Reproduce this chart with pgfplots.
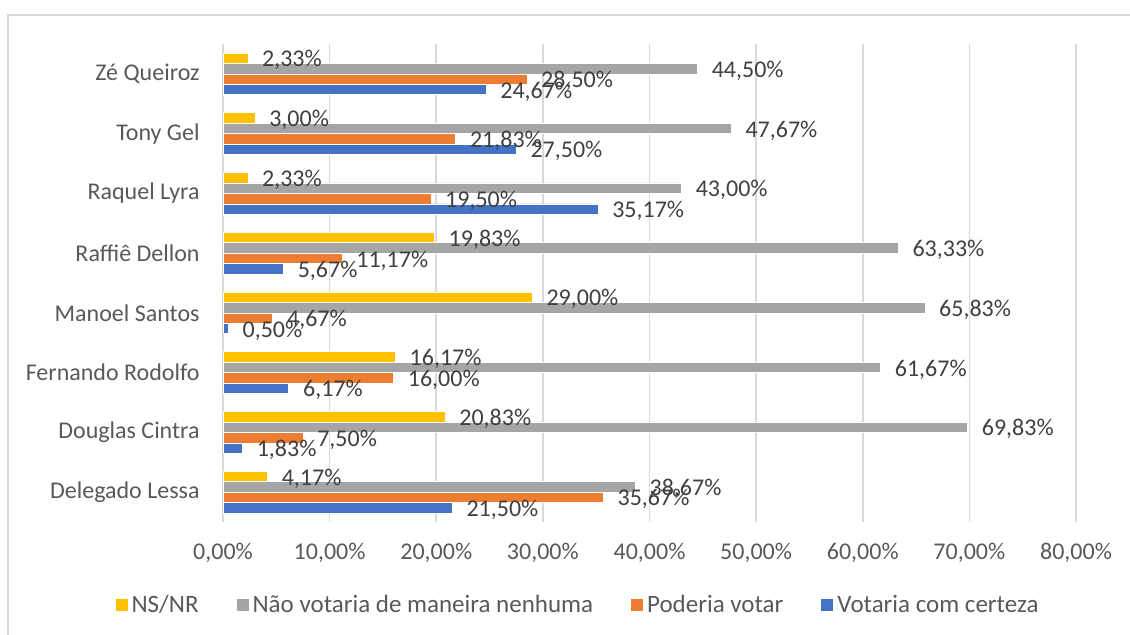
\documentclass[border=0pt]{standalone}
\usepackage{pgfplots}
\pgfplotsset{compat=1.18}
\usepackage{fontspec}
\setmainfont{Carlito}
\definecolor{cYel}{HTML}{FFC000}
\definecolor{cGry}{HTML}{A5A5A5}
\definecolor{cOrg}{HTML}{ED7D31}
\definecolor{cBlu}{HTML}{4472C4}
\definecolor{cGrid}{HTML}{D9D9D9}
\definecolor{cTxt}{HTML}{595959}
\definecolor{cLab}{HTML}{404040}
\newcommand{\fs}{\fontsize{12}{14}\selectfont}
\newcommand{\fl}{\fontsize{12.5}{14}\selectfont}
\begin{document}
\begin{tikzpicture}
\begin{axis}[
  at={(0,0)}, anchor=south west,
  width=426.5pt, height=239pt, scale only axis,
  xmin=0, xmax=80, ymin=-0.5, ymax=7.5,
  axis line style={draw=none},
  xmajorgrids, major grid style={cGrid, line width=0.8pt},
  major tick length=0pt,
  xtick={0,10,...,80},
  ytick={0,...,7},
  yticklabels={Delegado Lessa, Douglas Cintra, Fernando Rodolfo, Manoel Santos, Raffiê Dellon, Raquel Lyra, Tony Gel, Zé Queiroz},
  /pgf/number format/.cd, fixed, fixed zerofill, precision=2, use comma, assume math mode=true,
  /pgfplots/.cd,
  xticklabel={\pgfmathprintnumber{\tick}\%},
  xticklabel style={font=\fs, text=cTxt, inner sep=0pt, anchor=center, yshift=-15.5pt},
  yticklabel style={font=\fs, text=cTxt, inner sep=0pt, anchor=east, xshift=-11.5pt},
  xbar, bar width=0.175,
  nodes near coords={\pgfmathprintnumber{\pgfplotspointmeta}\%},
  every node near coord/.append style={font=\fs, text=cLab, anchor=west, inner sep=0pt, xshift=7pt, yshift=-1pt},
  legend columns=4,
  legend style={at={(0.4174,-0.1736)}, anchor=center, draw=none, fill=none, font=\fl, text=cTxt,
    /tikz/every even column/.append style={column sep=17pt}},
  legend cell align=left,
  legend image code/.code={\fill[#1, draw=none] (0pt,-3pt) rectangle (6pt,3pt);},
]
\addplot[fill=cYel, draw=white, line width=0.3pt, bar shift=0.2625] coordinates {
 (4.17,0) (20.83,1) (16.17,2) (29.00,3) (19.83,4) (2.33,5) (3.00,6) (2.33,7)};
\addlegendentry{NS/NR}
\addplot[fill=cGry, draw=white, line width=0.3pt, bar shift=0.0875] coordinates {
 (38.67,0) (69.83,1) (61.67,2) (65.83,3) (63.33,4) (43.00,5) (47.67,6) (44.50,7)};
\addlegendentry{Não votaria de maneira nenhuma}
\addplot[fill=cOrg, draw=white, line width=0.3pt, bar shift=-0.0875] coordinates {
 (35.67,0) (7.50,1) (16.00,2) (4.67,3) (11.17,4) (19.50,5) (21.83,6) (28.50,7)};
\addlegendentry{Poderia votar}
\addplot[fill=cBlu, draw=white, line width=0.3pt, bar shift=-0.2625] coordinates {
 (21.50,0) (1.83,1) (6.17,2) (0.50,3) (5.67,4) (35.17,5) (27.50,6) (24.67,7)};
\addlegendentry{Votaria com certeza}
\end{axis}
\draw[cGrid, line width=0.75pt] (-107.5pt,-70pt) -- (-107.5pt,253.5pt) -- (470pt,253.5pt);
\pgfresetboundingbox
\path (-111.5pt,-56.5pt) rectangle (453.5pt,261pt);
\end{tikzpicture}
\end{document}
